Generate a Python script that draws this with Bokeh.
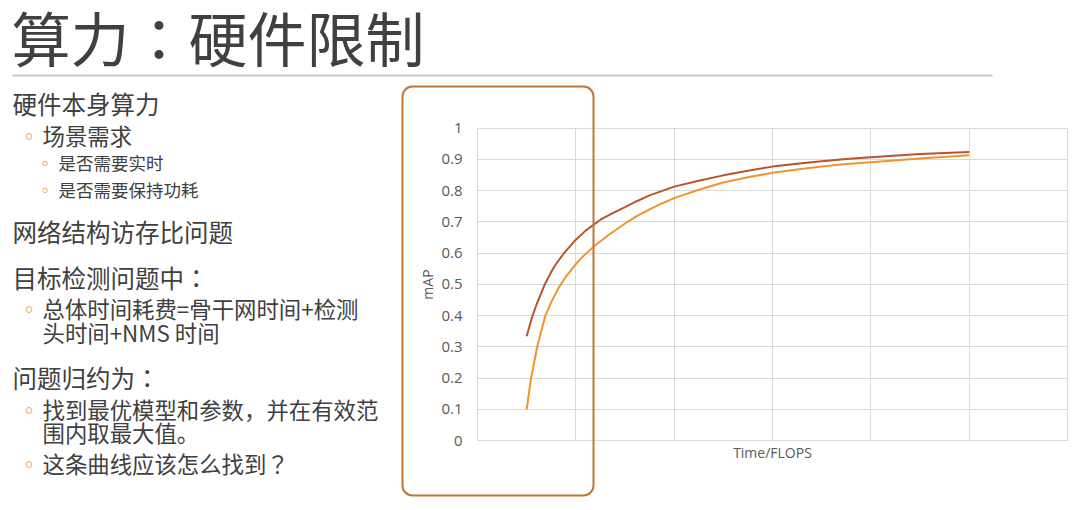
from bokeh.plotting import figure
from bokeh.models import Label, BoxAnnotation, FixedTicker, Range1d, LinearAxis, Grid
from bokeh.embed import file_html
from bokeh.resources import INLINE

# ---- data -------------------------------------------------------------
title_text = "算力：硬件限制"
x_ticks = [0, 1, 2, 3, 4, 5, 6]
y_ticks = [0, 0.1, 0.2, 0.3, 0.4, 0.5, 0.6, 0.7, 0.8, 0.9, 1]
y_tick_labels = ["0", "0.1", "0.2", "0.3", "0.4", "0.5", "0.6", "0.7", "0.8", "0.9", "1"]

time_red = [0.5, 0.55, 0.6, 0.68, 0.75, 0.8, 0.88, 1.0, 1.1, 1.25, 1.375, 1.5, 1.625, 1.75, 2.0,
            2.25, 2.5, 2.75, 3.0, 3.25, 3.5, 3.75, 4.0, 4.5, 5.0]
map_red = [0.334, 0.39, 0.435, 0.497, 0.54, 0.566, 0.60, 0.643, 0.672, 0.707, 0.728, 0.747, 0.767,
           0.785, 0.813, 0.832, 0.849, 0.864, 0.877, 0.886, 0.894, 0.901, 0.907, 0.917, 0.924]

time_orange = [0.5, 0.545, 0.607, 0.69, 0.75, 0.827, 0.9, 1.0, 1.08, 1.2, 1.35, 1.5, 1.625, 1.75,
               1.875, 2.0, 2.25, 2.5, 2.75, 3.0, 3.25, 3.5, 3.75, 4.0, 4.5, 5.0]
map_orange = [0.10, 0.20, 0.30, 0.40, 0.443, 0.49, 0.525, 0.565, 0.592, 0.626, 0.662, 0.695, 0.719, 0.74,
              0.759, 0.776, 0.803, 0.826, 0.843, 0.857, 0.868, 0.877, 0.885, 0.891, 0.903, 0.913]

bullets = [
    ("硬件本身算力", 0),
    ("场景需求", 1),
    ("是否需要实时", 2),
    ("是否需要保持功耗", 2),
    ("网络结构访存比问题", 0),
    ("目标检测问题中：", 0),
    ("总体时间耗费=骨干网时间+检测", 1),
    ("头时间+NMS 时间", 3),
    ("问题归约为：", 0),
    ("找到最优模型和参数，并在有效范", 1),
    ("围内取最大值。", 3),
    ("这条曲线应该怎么找到？", 1),
]
bullet_y = [103, 134, 162, 189, 231, 277, 307, 331, 377, 408, 431, 462]

# ---- layout -----------------------------------------------------------
W, H = 1076, 506
# plot area in canvas pixels
PL, PR, PT, PB = 477, 1067, 127.7, 440
xs = (PR - PL) / (x_ticks[-1] - x_ticks[0])
ys = (PB - PT) / (y_ticks[-1] - y_ticks[0])
x_range = Range1d(x_ticks[0] - PL / xs, x_ticks[0] + (W - PL) / xs)
y_range = Range1d(y_ticks[0] - (H - PB) / ys, y_ticks[0] + PB / ys)

p = figure(width=W, height=H, output_backend="svg", toolbar_location=None,
           x_range=x_range, y_range=y_range, x_axis_type=None, y_axis_type=None,
           min_border=0)
p.background_fill_color = "white"
p.border_fill_color = "white"
p.outline_line_color = None

GRID = "#D9D9D9"
AX_FONT = "Open Sans"
AX_COLOR = "#595959"

xaxis = LinearAxis(fixed_location=y_ticks[0], bounds=(x_ticks[0], x_ticks[-1]),
                   ticker=FixedTicker(ticks=x_ticks),
                   major_label_overrides={t: "" for t in x_ticks},
                   major_label_text_font_size="0px",
                   major_tick_line_color=None, minor_tick_line_color=None,
                   axis_line_color=None, major_label_standoff=0,
                   axis_label="Time/FLOPS", axis_label_standoff=-4,
                   axis_label_text_font=AX_FONT, axis_label_text_font_size="14px",
                   axis_label_text_font_style="normal", axis_label_text_color=AX_COLOR)
yaxis = LinearAxis(fixed_location=x_ticks[0], bounds=(y_ticks[0], y_ticks[-1]),
                   ticker=FixedTicker(ticks=y_ticks),
                   major_label_overrides=dict(zip(y_ticks, y_tick_labels)),
                   major_tick_line_color=None, minor_tick_line_color=None,
                   axis_line_color=None, major_label_standoff=9,
                   major_label_text_font=AX_FONT, major_label_text_font_size="15px",
                   major_label_text_color=AX_COLOR,
                   axis_label="mAP", axis_label_standoff=1,
                   axis_label_text_font=AX_FONT, axis_label_text_font_size="14px",
                   axis_label_text_font_style="normal", axis_label_text_color=AX_COLOR)
p.add_layout(xaxis, "below")
p.add_layout(yaxis, "left")

p.add_layout(Grid(dimension=0, ticker=FixedTicker(ticks=x_ticks),
                  bounds=(x_ticks[0], x_ticks[-1]), cross_bounds=(y_ticks[0], y_ticks[-1]),
                  grid_line_color=GRID, grid_line_width=1))
p.add_layout(Grid(dimension=1, ticker=FixedTicker(ticks=y_ticks),
                  bounds=(y_ticks[0], y_ticks[-1]), cross_bounds=(x_ticks[0], x_ticks[-1]),
                  grid_line_color=GRID, grid_line_width=1))

p.line(time_red, map_red, line_color="#B8552E", line_width=2)
p.line(time_orange, map_orange, line_color="#EE9530", line_width=2)


def sx(px):
    return px


def sy(py):
    return H - py


def lab(text, px, py, size, color="#404040", font="Noto Sans CJK SC"):
    p.add_layout(Label(x=sx(px), y=sy(py), x_units="screen", y_units="screen",
                       text=text, text_font=font, text_font_size=f"{size}px",
                       text_color=color, text_align="left", text_baseline="middle"))


# title and separator
lab(title_text, 11, 36, 59, font="Noto Sans CJK TC")
p.add_layout(BoxAnnotation(left=sx(12), right=sx(992), top=sy(74), bottom=sy(76),
                           left_units="screen", right_units="screen",
                           top_units="screen", bottom_units="screen",
                           fill_color="#C8C8C8", fill_alpha=1, line_color=None))

# bullet text
BULLET = "#E59A55"
for (txt, lvl), yy in zip(bullets, bullet_y):
    f = "Noto Sans CJK TC" if ("：" in txt or "？" in txt) else "Noto Sans CJK SC"
    if lvl == 0:
        lab(txt, 12, yy, 24.5, font=f)
    elif lvl == 1:
        lab("◦", 18, yy, 21, color=BULLET)
        lab(txt, 42, yy, 22.4, font=f)
    elif lvl == 3:
        lab(txt, 42, yy, 22.4, font=f)
    else:
        lab("◦", 36, yy, 17, color=BULLET)
        lab(txt, 58, yy, 17.5, font=f)

# highlight box
p.add_layout(BoxAnnotation(left=sx(402), right=sx(593), top=sy(86), bottom=sy(495),
                           left_units="screen", right_units="screen",
                           top_units="screen", bottom_units="screen",
                           fill_color=None, fill_alpha=0, line_color="#BF7634",
                           line_alpha=1, line_width=2, border_radius=10))

open("out.html", "w").write(file_html(p, INLINE))
